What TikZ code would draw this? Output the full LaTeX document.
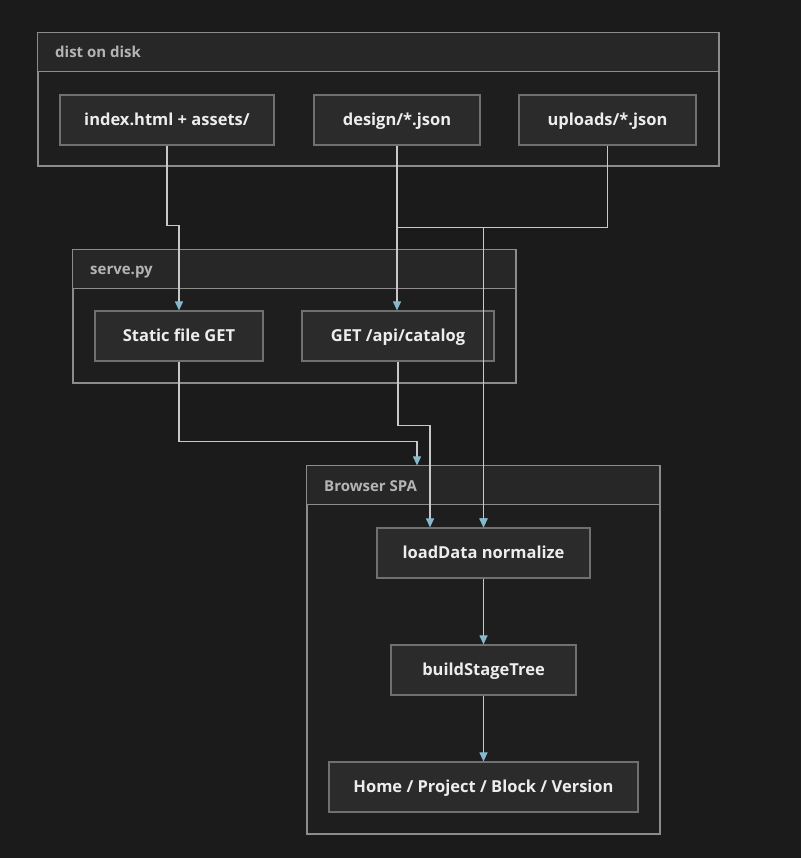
\documentclass[tikz,border=0pt]{standalone}
\usepackage{fontspec}
\setmainfont{Open Sans}
\usetikzlibrary{arrows.meta,calc}
\definecolor{bgcol}{HTML}{1B1B1B}
\definecolor{clbody}{HTML}{1E1E1E}
\definecolor{clhead}{HTML}{272727}
\definecolor{clline}{HTML}{8C8C8C}
\definecolor{boxfill}{HTML}{2B2B2B}
\definecolor{boxline}{HTML}{707070}
\definecolor{edgecol}{HTML}{C8C8C8}
\definecolor{tipcol}{HTML}{86B9CF}
\definecolor{txtcol}{HTML}{EDEDED}
\definecolor{labcol}{HTML}{B4B4B4}
\tikzset{every node/.style={font=\fontsize{16.5}{19}\selectfont\bfseries},
  cluster/.style={draw=clline,fill=clbody,line width=1.2pt,inner sep=0pt},
  clhd/.style={draw=clline,fill=clhead,line width=1.2pt},
  cllab/.style={anchor=west,text=labcol,inner sep=0pt,text height=10.7pt,text depth=0pt,font=\fontsize{15}{18}\selectfont\bfseries},
  box/.style={draw=boxline,fill=boxfill,line width=1.2pt,text=txtcol,minimum height=50pt,inner sep=0pt,text height=11.8pt,text depth=0pt},
  edge/.style={draw=edgecol,line width=1.1pt,-{Triangle[length=9pt,width=8pt,color=tipcol]}}}

\begin{document}
\begin{tikzpicture}[x=1pt,y=-1pt]
    \fill[bgcol] (0,0) rectangle (801,858);
    \useasboundingbox (0,0) rectangle (801,858);
    % dist on disk
    \node[cluster,minimum width=681pt,minimum height=133pt] (disk) at (378.5,99.5) {};
    \draw[clhd] (disk.north west) rectangle ++(681,39);
    \node[cllab] (disklab) at (55,52.5) {dist on disk};
    % serve.py
    \node[cluster,minimum width=443pt,minimum height=133pt] (serve) at (294.5,316.5) {};
    \draw[clhd] (serve.north west) rectangle ++(443,39);
    \node[cllab] (servelab) at (90,269.5) {serve.py};
    % Browser SPA
    \node[cluster,minimum width=353pt,minimum height=368pt] (spa) at (483.5,650) {};
    \draw[clhd] (spa.north west) rectangle ++(353,39);
    \node[cllab] (spalab) at (324,486.5) {Browser SPA};
    % nodes
    \node[box,minimum width=214pt] (index) at (167,120) {index.html + assets/};
    \node[box,minimum width=166pt] (design) at (397,120) {design/*.json};
    \node[box,minimum width=177pt] (uploads) at (607.5,120) {uploads/*.json};
    \node[box,minimum width=168pt] (static) at (179,336) {Static file GET};
    \node[box,minimum width=192pt] (catalog) at (398,336) {GET /api/catalog};
    \node[box,minimum width=213pt] (load) at (483.5,553) {loadData normalize};
    \node[box,minimum width=185pt] (build) at (483.5,670) {buildStageTree};
    \node[box,minimum width=309pt] (home) at (483.5,787) {Home / Project / Block / Version};
    % edges
    \draw[edge] (index.south) -- ++(0,80) -| (static.north);
    \draw[edge] (design.south) -- (design.south |- catalog.north);
    \draw[edge] (design.south) -- ++(0,82) -| (load.north);
    \draw[edge] (uploads.south) -- ++(0,82) -| (load.north);
    \draw[edge] (static.south) -- ++(0,80) -| ([xshift=-66.5pt]spa.north);
    \draw[edge] (catalog.south) -- ++(0,64) -| ([xshift=-53.5pt]load.north);
    \draw[edge] (load) -- (build);
    \draw[edge] (build) -- (home);
  \end{tikzpicture}
\end{document}
